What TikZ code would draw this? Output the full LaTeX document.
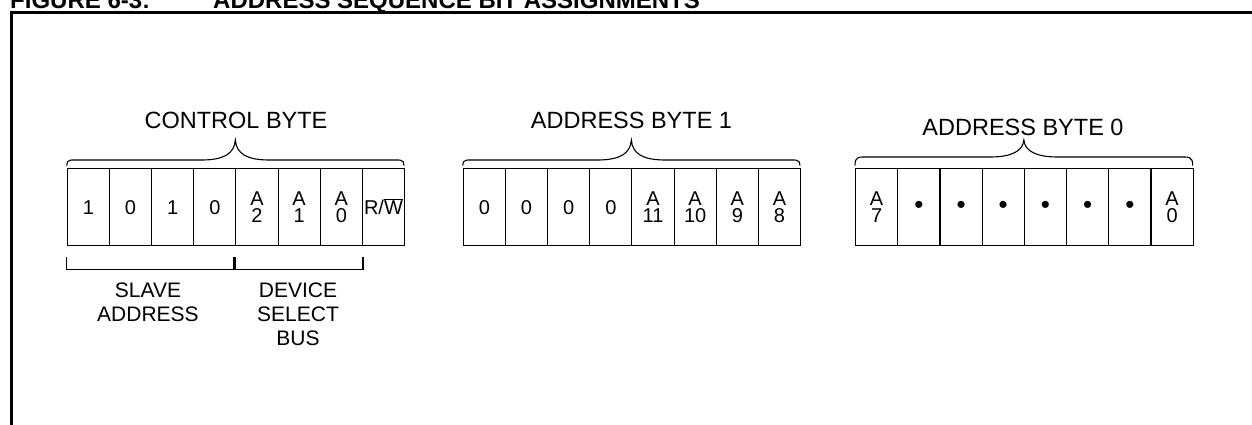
\documentclass[tikz,border=0pt]{standalone}
\usepackage{fontspec}
\setmainfont{Liberation Sans}
\usetikzlibrary{calc}
\newcommand\bytebrace[4]{%
  \draw[brace] (#1,165.5) .. controls (#1,{#3-1}) and ({#1+4},#3) .. ({#1+14},#3)
    -- ({(#1+#2)/2-34},#3) .. controls ({(#1+#2)/2-12},#3) and ({(#1+#2)/2-1},{#3-6}) .. ({(#1+#2)/2},#4)
    .. controls ({(#1+#2)/2+1},{#3-6}) and ({(#1+#2)/2+12},#3) .. ({(#1+#2)/2+34},#3)
    -- ({#2-14},#3) .. controls ({#2-4},#3) and (#2,{#3-1}) .. (#2,165.5);}
\newcommand\bdot{{\fontsize{26}{26}\selectfont\textbullet}}
\begin{document}
\begin{tikzpicture}[x=1pt,y=-1pt,
  cell/.style={draw, line width=1.1pt, minimum width=42.2pt, minimum height=76.7pt,
    inner sep=0pt, anchor=north west, align=center, font=\fontsize{20}{17.5}\selectfont},
  brace/.style={line width=1.1pt},
  bracket/.style={line width=1.1pt},
  bytetitle/.style={anchor=base, inner sep=0pt, font=\fontsize{23.5}{27}\selectfont},
  lbl/.style={anchor=north, inner sep=0pt, align=center, font=\fontsize{21}{24}\selectfont},
  figtitle/.style={anchor=base west, inner sep=0pt, font=\bfseries\fontsize{24}{28}\selectfont}]
\useasboundingbox (0,0) rectangle (1252,424);
% frame
\draw[line width=3pt] (1262,12.5) -- (11.7,12.5) -- (11.7,436);
% figure title
\node[figtitle] (fig) at (10,8) {FIGURE 6-3:};
\node[figtitle] (ttl) at (213,8) {ADDRESS SEQUENCE BIT ASSIGNMENTS};
% control byte cells
\foreach \t [count=\i] in {1,0,1,0,A\\2,A\\1,A\\0,R/$\smash{\overline{\hbox{W}}}$}
  \node[cell] (c\i) at ({66.7+(\i-1)*42.16},168.3) {\t};
% address byte 1 cells
\foreach \t [count=\i] in {0,0,0,0,A\\11,A\\10,A\\9,A\\8}
  \node[cell] (a\i) at ({462.7+(\i-1)*42.16},168.3) {\t};
% address byte 0 cells
\foreach \t [count=\i] in {A\\7,\bdot,\bdot,\bdot,\bdot,\bdot,\bdot,A\\0}
  \node[cell] (b\i) at ({855+(\i-1)*42.2},168.3) {\t};
% braces
\bytebrace{66.7}{404}{160}{140}
\bytebrace{462.7}{800}{160}{140}
\bytebrace{855}{1192.7}{157}{140}
% byte titles
\node[bytetitle] (tc) at (236,128.3) {CONTROL BYTE};
\node[bytetitle] (t1) at (631.5,128.3) {ADDRESS BYTE 1};
\node[bytetitle] (t0) at (1023,135) {ADDRESS BYTE 0};
% lower brackets
\draw[bracket] (c1.south west) ++(0,11) -- ++(0,12) -| ($(c4.south east)+(-2.5,11)$);
\draw[bracket] (c5.south west) ++(0,11) -- ++(0,12) -| ($(c7.south east)+(0,11)$);
% labels
\node[lbl] (sa) at (148,283) {SLAVE\\ADDRESS};
\node[lbl] (dsb) at (298,283) {DEVICE\\SELECT\\BUS};
\end{tikzpicture}
\end{document}
